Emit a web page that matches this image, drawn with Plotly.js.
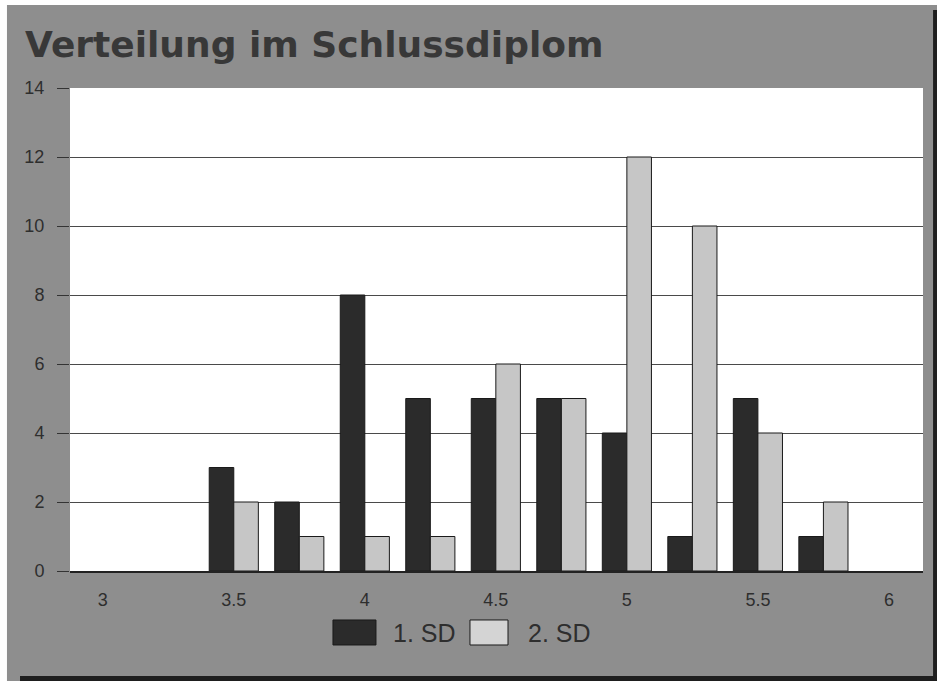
<!DOCTYPE html>
<html>
<head>
<meta charset="utf-8">
<script src="https://cdn.plot.ly/plotly-3.0.1.min.js"></script>
<style>html,body{margin:0;padding:0;background:#fff;}#chart{width:937px;height:681px;}</style>
</head>
<body>
<div id="chart"></div>
<script>
const grades = [3.5, 3.75, 4, 4.25, 4.5, 4.75, 5, 5.25, 5.5, 5.75];
const sd1 = [3, 2, 8, 5, 5, 5, 4, 1, 5, 1];
const sd2 = [2, 1, 1, 1, 6, 5, 12, 10, 4, 2];
const seriesNames = ["1. SD", "2. SD"];
const xTicks = [3, 3.5, 4, 4.5, 5, 5.5, 6];
const xTickLabels = ["3", "3.5", "4", "4.5", "5", "5.5", "6"];
const yTicks = [0, 2, 4, 6, 8, 10, 12, 14];
const titleText = "Verteilung im Schlussdiplom";

const darkColor = "#2b2b2b";
const lightColor = "#c6c6c6";
const panelColor = "#8e8e8e";
const font = "Liberation Sans, Arial, Helvetica, sans-serif";

const traces = [
  {type: "bar", x: grades, y: sd1, name: seriesNames[0],
   marker: {color: darkColor, line: {color: "#1a1a1a", width: 1}}},
  {type: "bar", x: grades, y: sd2, name: seriesNames[1],
   marker: {color: lightColor, line: {color: "#1a1a1a", width: 1}}}
];

const layout = {
  width: 937, height: 681,
  margin: {l: 70, r: 14, t: 88, b: 110},
  paper_bgcolor: panelColor,
  plot_bgcolor: "#ffffff",
  barmode: "group",
  bargap: 0.25,
  bargroupgap: 0,
  showlegend: false,
  font: {family: font, color: "#2e2e2e", size: 18},
  title: {
    text: "<b>" + titleText + "</b>",
    font: {family: "DejaVu Sans, sans-serif", size: 36, color: "#383838"},
    xref: "container", yref: "container",
    x: 25/937, xanchor: "left",
    y: 1 - 44/681, yanchor: "middle"
  },
  xaxis: {
    range: [2.875, 6.13],
    tickvals: xTicks, ticktext: xTickLabels,
    ticks: "", showgrid: false, zeroline: false,
    showline: true, linecolor: "#222", linewidth: 1.5,
    tickfont: {family: font, size: 18, color: "#2e2e2e"},
    ticklabelstandoff: 12
  },
  yaxis: {
    range: [0, 14],
    tickvals: yTicks,
    ticks: "outside", ticklen: 12, tickcolor: "#333", tickwidth: 1,
    showgrid: true, gridcolor: "#4a4a4a", gridwidth: 1,
    zeroline: false, showline: false,
    tickfont: {family: font, size: 18, color: "#2e2e2e"},
    ticklabelstandoff: 9
  },
  shapes: [
    // white page margin left and top
    {type: "rect", xref: "paper", yref: "paper", x0: -0.0821, x1: -0.0739, y0: -0.2277, y1: 1.1822,
     fillcolor: "#ffffff", line: {width: 0}},
    {type: "rect", xref: "paper", yref: "paper", x0: -0.0821, x1: 1.0164, y0: 1.1718, y1: 1.1822,
     fillcolor: "#ffffff", line: {width: 0}},
    // drop shadow bottom and right
    {type: "rect", xref: "paper", yref: "paper", x0: -0.0586, x1: 1.0164, y0: -0.2277, y1: -0.2174,
     fillcolor: "#1e1e1e", line: {width: 0}},
    {type: "rect", xref: "paper", yref: "paper", x0: 1.0118, x1: 1.0164, y0: -0.2277, y1: 1.1615,
     fillcolor: "#1e1e1e", line: {width: 0}},
    // legend swatches
    {type: "rect", xref: "paper", yref: "paper", x0: 0.3083, x1: 0.3587, y0: -0.1532, y1: -0.1014,
     fillcolor: darkColor, line: {color: "#1a1a1a", width: 1}},
    {type: "rect", xref: "paper", yref: "paper", x0: 0.4689, x1: 0.5135, y0: -0.1532, y1: -0.1014,
     fillcolor: "#d4d4d4", line: {color: "#1a1a1a", width: 1}}
  ],
  annotations: [
    {xref: "paper", yref: "paper", x: 0.3765, y: -0.1284, xanchor: "left", yanchor: "middle",
     text: seriesNames[0], showarrow: false, font: {family: font, size: 25, color: "#2e2e2e"}},
    {xref: "paper", yref: "paper", x: 0.5348, y: -0.1284, xanchor: "left", yanchor: "middle",
     text: seriesNames[1], showarrow: false, font: {family: font, size: 25, color: "#2e2e2e"}}
  ]
};

Plotly.newPlot("chart", traces, layout, {staticPlot: true, displayModeBar: false});
</script>
</body>
</html>
